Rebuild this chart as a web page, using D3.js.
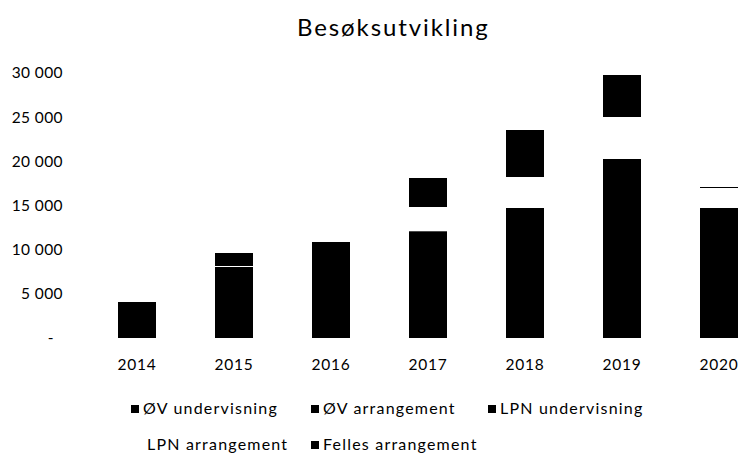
<!DOCTYPE html>
<meta charset="utf-8">
<html>
<head>
<style>
  body { margin: 0; background: #fff; }
  text { font-family: Lato, "Open Sans", sans-serif; fill: #000; }
</style>
</head>
<body>
<div id="chart"></div>
<script src="https://d3js.org/d3.v7.min.js"></script>
<script>

// data
var years = ["2014", "2015", "2016", "2017", "2018", "2019", "2020"];
var seriesNames = ["ØV undervisning", "ØV arrangement", "LPN undervisning", "LPN arrangement", "Felles arrangement"];
var ovUndervisning  = [3200, 5500, 6200, 6500, 7500, 9000, 7000];
var ovArrangement   = [840, 1570, 1700, 1800, 2200, 3000, 2500];
var lpnUndervisning = [0, 1000, 3000, 3780, 5020, 8300, 5220];
var lpnArrangement  = [0, 60, 0, 2720, 3470, 4760, 2300];
var fellesArrangement = [0, 1530, 0, 3280, 5320, 4680, 100];
var yTicks = [0, 5000, 10000, 15000, 20000, 25000, 30000];
var seriesColors = ["#000", "#000", "#000", "#fff", "#000"];

var width = 739, height = 455;
var fontFam = "Lato, \"Open Sans\", sans-serif";

var rows = years.map(function(y, i) {
  return {
    year: y,
    "ØV undervisning": ovUndervisning[i],
    "ØV arrangement": ovArrangement[i],
    "LPN undervisning": lpnUndervisning[i],
    "LPN arrangement": lpnArrangement[i],
    "Felles arrangement": fellesArrangement[i]
  };
});

var svg = d3.select("#chart")
  .append("svg")
    .attr("width", width)
    .attr("height", height);

// plot area runs past the right edge, like the original crop
var x = d3.scaleBand()
  .domain(years)
  .range([88.5, 767.5])
  .paddingInner(0.6)
  .paddingOuter(0.3);

var y = d3.scaleLinear()
  .domain([0, 30000])
  .range([338, 73]);

var color = d3.scaleOrdinal()
  .domain(seriesNames)
  .range(seriesColors);

var stacked = d3.stack().keys(seriesNames)(rows);

svg.append("g")
  .selectAll("g")
  .data(stacked)
  .enter().append("g")
    .attr("fill", function(d) { return color(d.key); })
    // black segments crisp so no seams show, the white one keeps its soft edge
    .attr("shape-rendering", function(d) { return d.key === "LPN arrangement" ? "auto" : "crispEdges"; })
  .selectAll("rect")
  .data(function(d) { return d; })
  .enter().append("rect")
    .attr("x", function(d) { return x(d.data.year); })
    .attr("y", function(d) { return y(d[1]); })
    .attr("width", x.bandwidth())
    .attr("height", function(d) { return y(d[0]) - y(d[1]); });

// title
svg.append("text")
  .attr("x", 297)
  .attr("y", 36)
  .style("font-size", "24px")
  .style("letter-spacing", "1.9px")
  .text("Besøksutvikling");

// y axis labels
var fmt = function(v) {
  if (v === 0) return "-";
  return d3.format(",")(v).replace(/,/g, " ");
};
var yAxis = svg.append("g")
  .attr("transform", "translate(63,0)")
  .call(d3.axisLeft(y).tickValues(yTicks).tickFormat(fmt).tickSize(0).tickPadding(0));
yAxis.select(".domain").remove();
yAxis.selectAll("text")
  .style("font-size", "15.5px")
  .style("letter-spacing", "0.4px")
  .style("font-family", fontFam)
  .attr("fill", "#000")
  .attr("dx", function(d) { return d === 0 ? -9 : 0; });

// x axis labels
var xAxis = svg.append("g")
  .attr("transform", "translate(0,338)")
  .call(d3.axisBottom(x).tickSize(0).tickPadding(21));
xAxis.select(".domain").remove();
xAxis.selectAll("text")
  .style("font-size", "15.5px")
  .style("letter-spacing", "0.8px")
  .style("font-family", fontFam)
  .attr("fill", "#000");

// legend
var legendPos = [[131, 405], [311, 405], [488, 405], [135, 441], [311, 441]];
var legend = svg.append("g")
  .selectAll("g")
  .data(seriesNames)
  .enter().append("g")
    .attr("transform", function(d, i) { return "translate(" + legendPos[i][0] + "," + legendPos[i][1] + ")"; });

legend.append("rect")
  .attr("x", 0)
  .attr("y", 0)
  .attr("width", 8)
  .attr("height", 8)
  .attr("fill", function(d) { return color(d); });

legend.append("text")
  .attr("x", 12)
  .attr("y", 9)
  .style("font-size", "16px")
  .style("letter-spacing", "1.2px")
  .text(function(d) { return d; });

</script>
</body>
</html>
